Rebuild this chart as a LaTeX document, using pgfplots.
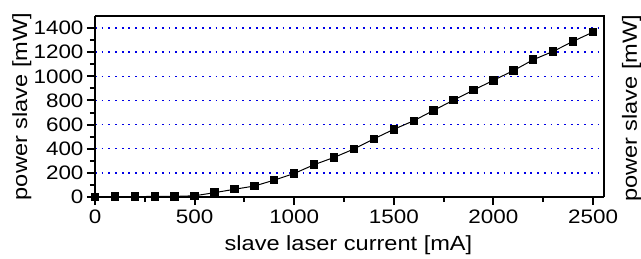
\documentclass[border=0pt]{standalone}
\usepackage{fontspec}
\setmainfont{Liberation Sans}[FakeStretch=1.15]
\usepackage{pgfplots}
\pgfplotsset{compat=1.18}
\definecolor{gridblue}{RGB}{0,0,230}
\begin{document}
\begin{tikzpicture}[x=1pt,y=1pt]
\useasboundingbox (0,0) rectangle (641,258);
\clip (0,0) rectangle (641,258);
\begin{axis}[
  at={(95pt,61pt)}, anchor=south west,
  scale only axis, width=509pt, height=181pt,
  xmin=0, xmax=2555, ymin=0, ymax=1500,
  xtick={0,500,...,2500}, ytick={0,200,...,1400},
  minor x tick num=1, minor y tick num=1,
  xtick pos=lower, ytick pos=left,
  tick align=outside,
  major tick length=8pt, minor tick length=5pt,
  every tick/.style={black, line width=2pt},
  axis x line*=bottom, axis y line*=left,
  axis line style={line width=2.6pt, -},
  after end axis/.code={\draw[line width=1.1pt] (rel axis cs:0,1) -- (rel axis cs:1,1) -- (rel axis cs:1,0);},
  ymajorgrids,
  major grid style={gridblue, line width=1.5pt, dash pattern=on 1.8pt off 4.9pt},
  /pgf/number format/assume math mode=true,
  /pgf/number format/1000 sep={},
  tick label style={font=\fontsize{19.5}{21}\selectfont},
  xticklabel style={yshift=-1pt},
  xlabel={slave laser current [mA]},
  ylabel={power slave [mW]},
  label style={font=\fontsize{20.5}{22}\selectfont},
  xlabel style={at={(axis description cs:0.498,-0.215)}, anchor=north, inner sep=0pt},
  ylabel style={at={(axis description cs:-0.163,0.5)}, anchor=north, inner sep=0pt},
  clip=false,
]
\addplot[black, line width=1pt, mark=square*, mark size=3.7pt, mark options={solid}] coordinates {
(0,2) (100,3) (200,3) (300,5) (400,5) (500,10) (600,36) (700,64) (800,91) (900,140)
(1000,195) (1100,268) (1200,328) (1300,398) (1400,482) (1500,561) (1600,632) (1700,718)
(1800,803) (1900,886) (2000,967) (2100,1047) (2200,1138) (2300,1207) (2400,1290) (2500,1367)
};
\node[rotate=90, anchor=north, inner sep=0pt, font=\fontsize{20.5}{22}\selectfont] at (axis description cs:1.035,0.49) {power slave [mW]};
\end{axis}
\end{tikzpicture}
\end{document}
